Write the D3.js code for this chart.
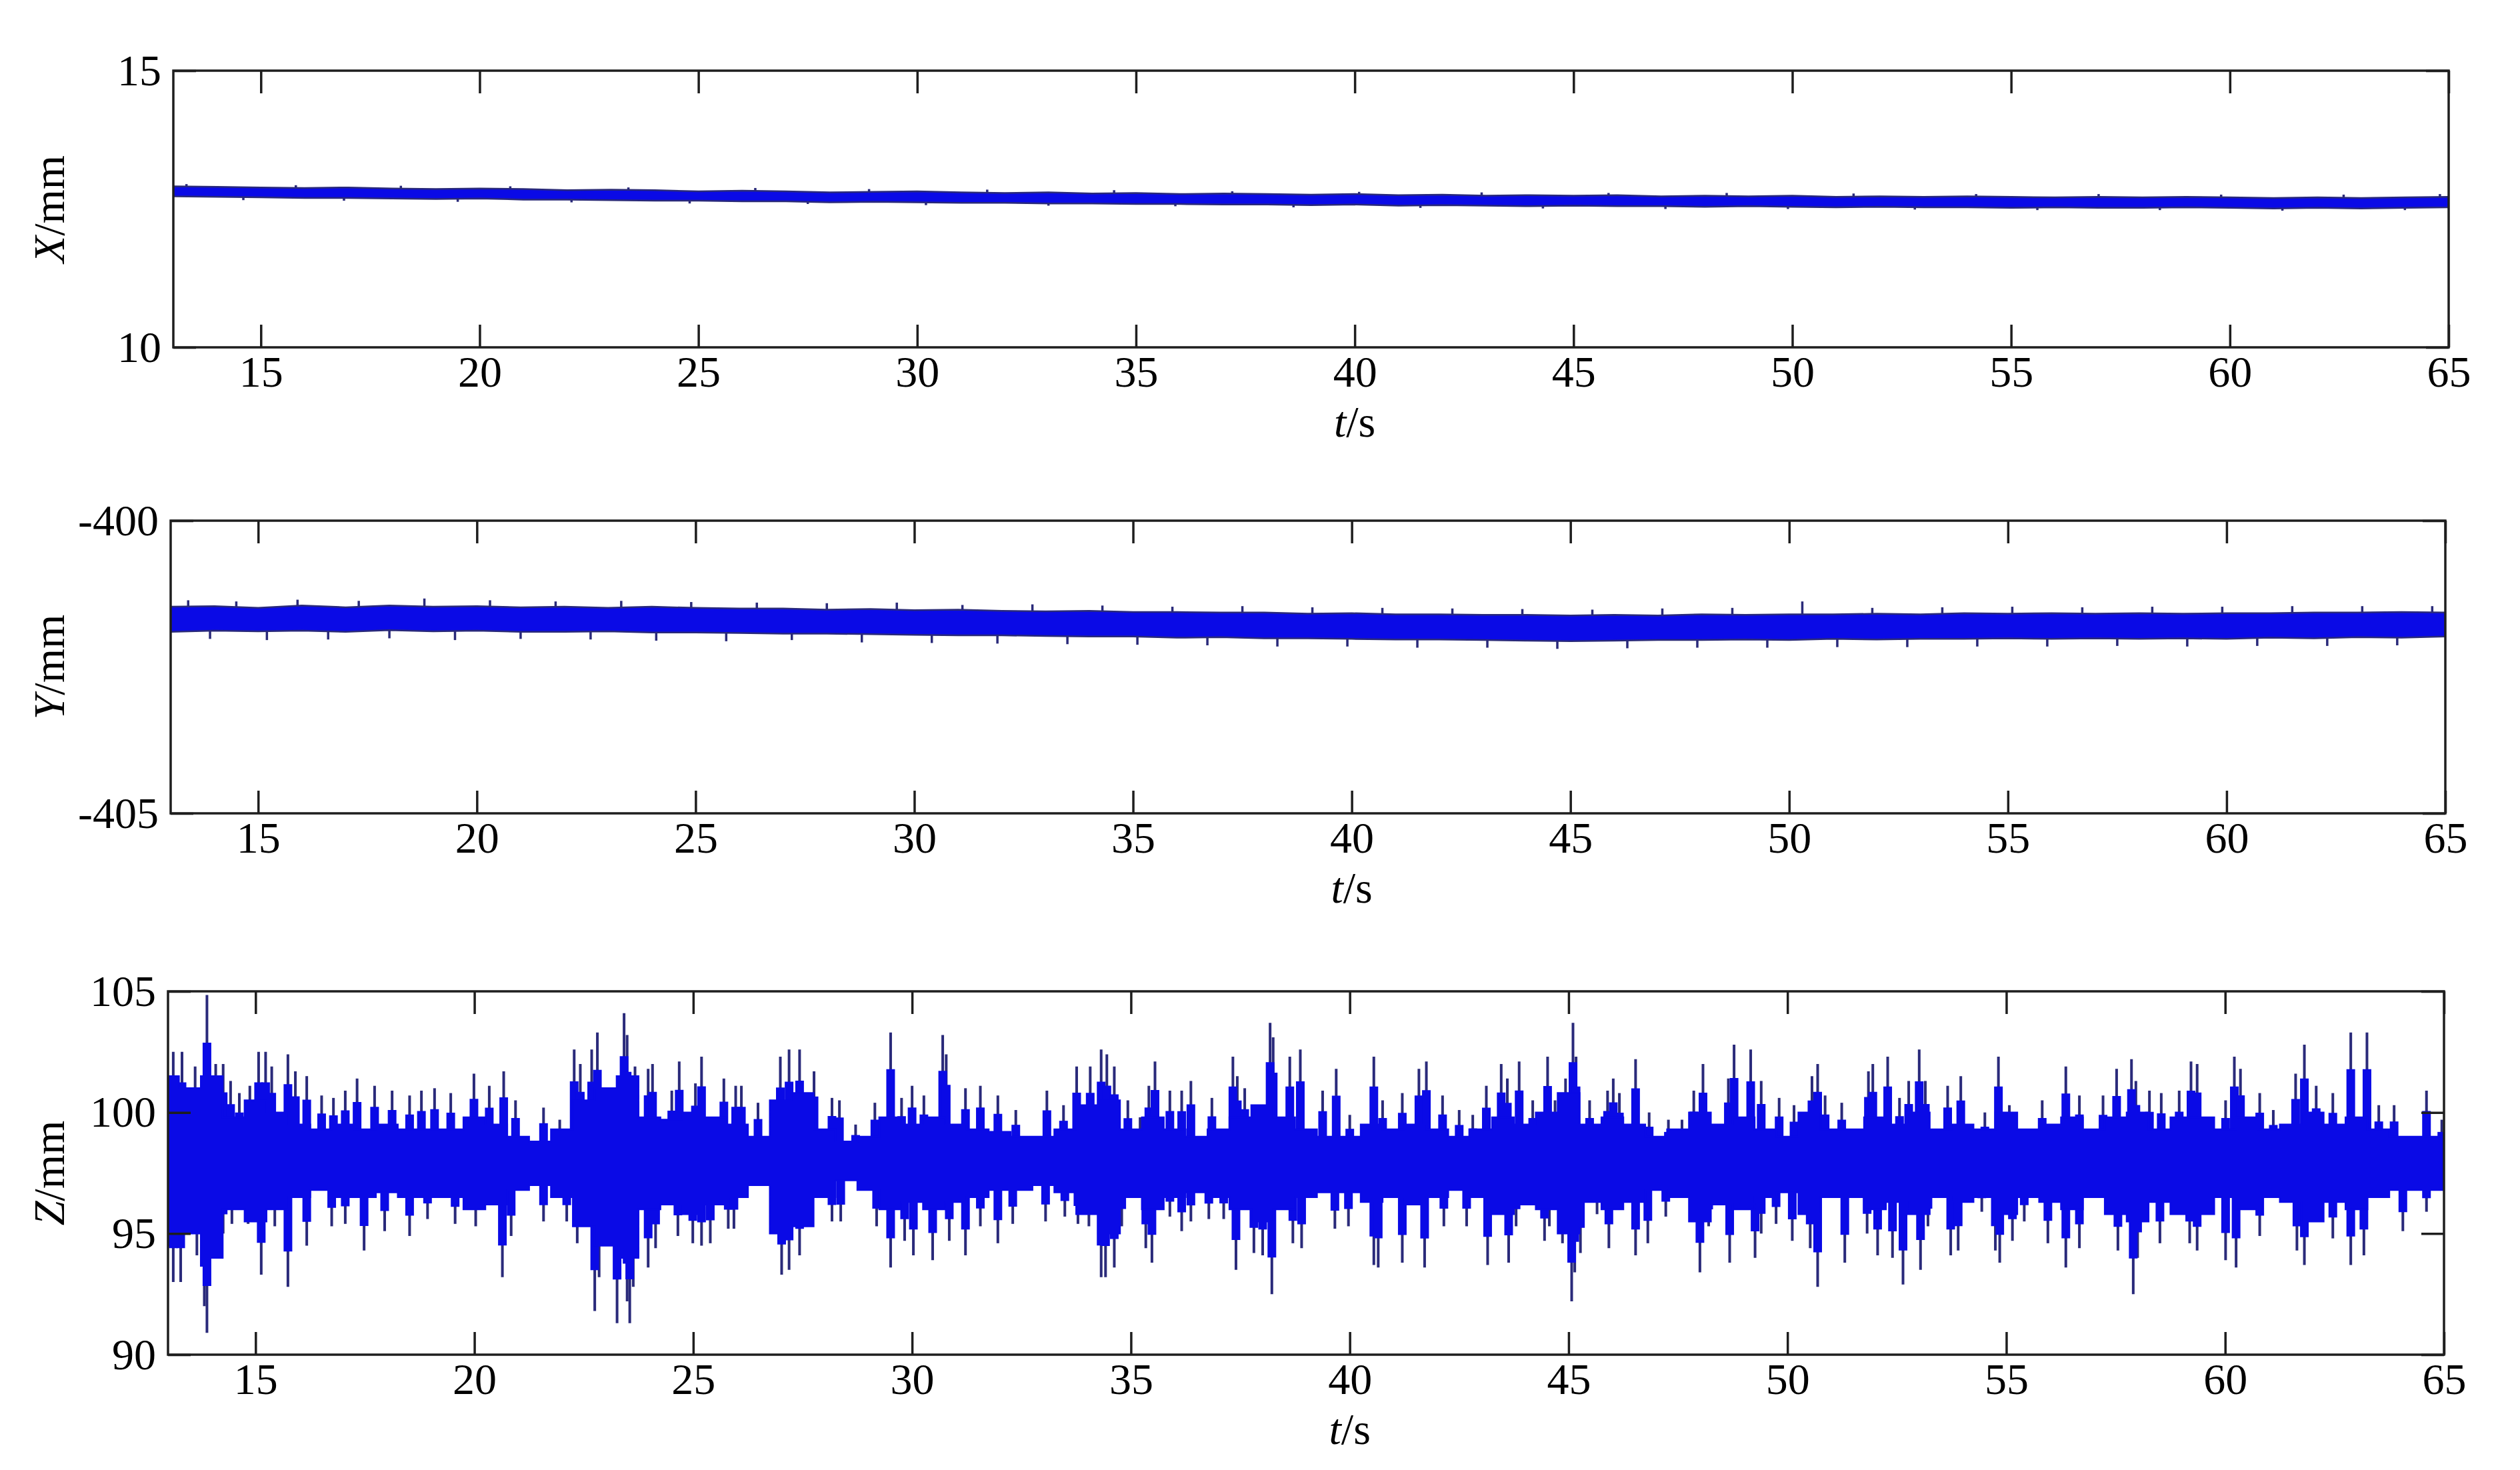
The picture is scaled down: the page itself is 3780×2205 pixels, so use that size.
<!DOCTYPE html>
<html>
<head>
<meta charset="utf-8">
<script src="https://cdn.jsdelivr.net/npm/d3@7"></script>
<style>
  body { margin: 0; background: #fff; }
  svg { display: block; }
  .tick text { font-family: "Liberation Serif", "Times New Roman", serif; font-size: 66px; fill: #000; }
  .lbl { font-family: "Liberation Serif", "Times New Roman", serif; font-size: 66px; fill: #000; }
</style>
</head>
<body>
<div id="chart"></div>
<script>
// time ticks shared by all three panels
var tTicks = [15, 20, 25, 30, 35, 40, 45, 50, 55, 60, 65]

// X/mm : band envelope, one value per second (13 s .. 65 s)
var xTimes = d3.range(13, 66)
var xHi = [12.91, 12.90, 12.89, 12.88, 12.89, 12.87, 12.86, 12.87, 12.86, 12.84,
           12.85, 12.84, 12.82, 12.83, 12.82, 12.80, 12.81, 12.82, 12.80, 12.79,
           12.80, 12.78, 12.79, 12.77, 12.78, 12.77, 12.76, 12.77, 12.75, 12.76,
           12.74, 12.75, 12.74, 12.75, 12.73, 12.74, 12.73, 12.74, 12.72, 12.73,
           12.72, 12.73, 12.72, 12.71, 12.72, 12.71, 12.72, 12.71, 12.70, 12.71,
           12.70, 12.71, 12.72]
var xLo = [12.73, 12.72, 12.71, 12.70, 12.70, 12.69, 12.68, 12.69, 12.67, 12.67,
           12.66, 12.65, 12.65, 12.64, 12.64, 12.62, 12.63, 12.62, 12.61, 12.61,
           12.60, 12.60, 12.59, 12.59, 12.58, 12.58, 12.57, 12.58, 12.56, 12.57,
           12.56, 12.55, 12.56, 12.55, 12.55, 12.54, 12.55, 12.54, 12.53, 12.54,
           12.53, 12.53, 12.52, 12.53, 12.52, 12.52, 12.53, 12.52, 12.51, 12.52,
           12.51, 12.52, 12.53]
var xSpikes = [[13.3, 12.95], [14.6, 12.66], [15.8, 12.93], [16.9, 12.65], [18.2, 12.92], [19.5, 12.63],
               [20.7, 12.91], [22.1, 12.62], [23.4, 12.89], [24.8, 12.60], [26.3, 12.88], [27.5, 12.59],
               [28.9, 12.86], [30.2, 12.57], [31.6, 12.85], [33.0, 12.56], [34.5, 12.84], [35.9, 12.55],
               [37.2, 12.82], [38.6, 12.53], [40.1, 12.81], [41.5, 12.52], [42.9, 12.80], [44.3, 12.51],
               [45.8, 12.79], [47.1, 12.50], [48.5, 12.79], [49.9, 12.50], [51.4, 12.78], [52.8, 12.49],
               [54.2, 12.77], [55.6, 12.48], [57.0, 12.77], [58.4, 12.48], [59.8, 12.76], [61.2, 12.47],
               [62.6, 12.76], [64.0, 12.48], [64.8, 12.77]]

// Y/mm : band envelope, one value per second
var yTimes = d3.range(13, 66)
var yHi = [-401.47, -401.46, -401.49, -401.45, -401.48, -401.45, -401.47, -401.46, -401.48, -401.47,
           -401.49, -401.47, -401.49, -401.50, -401.50, -401.52, -401.51, -401.53, -401.52, -401.54,
           -401.55, -401.54, -401.56, -401.56, -401.57, -401.57, -401.59, -401.58, -401.60, -401.60,
           -401.61, -401.61, -401.62, -401.61, -401.62, -401.60, -401.61, -401.60, -401.60, -401.59,
           -401.60, -401.58, -401.59, -401.58, -401.59, -401.58, -401.59, -401.58, -401.58, -401.57,
           -401.57, -401.56, -401.57]
var yLo = [-401.90, -401.88, -401.89, -401.88, -401.90, -401.87, -401.89, -401.88, -401.90, -401.90,
           -401.89, -401.91, -401.91, -401.92, -401.93, -401.93, -401.94, -401.95, -401.96, -401.96,
           -401.97, -401.98, -401.98, -402.00, -401.99, -402.01, -402.01, -402.02, -402.03, -402.03,
           -402.04, -402.05, -402.06, -402.05, -402.04, -402.04, -402.03, -402.04, -402.02, -402.03,
           -402.02, -402.02, -402.01, -402.02, -402.01, -402.02, -402.01, -402.02, -402.00, -402.01,
           -401.99, -402.00, -401.98]
var ySpikes = [[13.4, -401.36], [13.9, -402.02], [14.5, -401.38], [15.2, -402.04], [15.9, -401.35], [16.6, -402.03],
               [17.3, -401.37], [18.0, -402.01], [18.8, -401.33], [19.5, -402.04], [20.3, -401.36], [21.0, -402.02],
               [21.8, -401.38], [22.6, -402.03], [23.3, -401.37], [24.1, -402.05], [24.9, -401.39], [25.7, -402.06],
               [26.4, -401.40], [27.2, -402.04], [28.0, -401.41], [28.8, -402.08], [29.6, -401.40], [30.4, -402.09],
               [31.1, -401.44], [31.9, -402.10], [32.7, -401.43], [33.5, -402.11], [34.3, -401.45], [35.1, -402.12],
               [35.9, -401.47], [36.7, -402.13], [37.5, -401.46], [38.3, -402.15], [39.1, -401.48], [39.9, -402.15],
               [40.7, -401.49], [41.5, -402.17], [42.3, -401.50], [43.1, -402.17], [43.9, -401.51], [44.7, -402.19],
               [45.5, -401.52], [46.3, -402.18], [47.1, -401.50], [47.9, -402.17], [48.7, -401.49], [49.5, -402.17],
               [50.3, -401.38], [51.1, -402.16], [51.9, -401.49], [52.7, -402.16], [53.5, -401.48], [54.3, -402.15],
               [55.1, -401.47], [55.9, -402.15], [56.7, -401.48], [57.5, -402.14], [58.3, -401.47], [59.1, -402.15],
               [59.9, -401.47], [60.7, -402.14], [61.5, -401.46], [62.3, -402.14], [63.1, -401.46], [63.9, -402.13],
               [64.7, -401.46]]

// Z/mm : dense core envelope, one value every 0.5 s
var zTimes = d3.range(26, 131).map(function(d) { return d / 2 })
var zHi = [101.5, 101.0, 101.5, 99.8, 100.5, 100.0, 99.5, 99.3, 99.5, 99.3,
           99.5, 99.3, 99.3, 99.3, 99.8, 99.5, 99.0, 98.8, 99.3, 100.5,
           101.0, 101.5, 99.8, 99.7, 100.0, 99.8, 99.5, 99.0, 100.5, 100.8,
           99.3, 98.8, 99.0, 99.8, 99.5, 99.8, 99.5, 99.3, 99.2, 99.0,
           99.0, 99.3, 100.3, 100.5, 99.3, 99.8, 99.3, 99.0, 99.3, 99.8,
           100.3, 99.8, 99.3, 99.0, 99.0, 99.5, 99.3, 99.5, 99.3, 99.0,
           99.3, 99.8, 99.5, 100.0, 100.8, 99.5, 99.8, 99.5, 99.0, 99.3,
           100.0, 99.5, 99.8, 99.3, 99.0, 100.0, 99.3, 99.3, 99.8, 99.5,
           100.0, 99.3, 99.5, 99.3, 100.0, 99.3, 99.5, 99.8, 99.3, 99.8,
           100.0, 99.3, 99.8, 99.8, 99.3, 99.8, 99.3, 99.5, 100.0, 99.5,
           99.8, 99.3, 99.0, 99.0, 99.0]
var zLo = [94.5, 95.0, 94.0, 96.0, 95.5, 96.0, 96.5, 96.8, 96.5, 96.5,
           96.7, 96.5, 96.5, 96.5, 96.0, 96.2, 96.8, 97.0, 96.5, 95.3,
           94.5, 94.0, 96.0, 96.2, 95.8, 96.2, 96.5, 97.0, 95.0, 95.3,
           96.5, 97.2, 96.8, 96.0, 96.3, 96.0, 96.3, 96.5, 96.8, 96.8,
           97.0, 96.7, 95.8, 95.0, 96.5, 96.0, 96.5, 96.7, 96.5, 96.0,
           95.5, 96.0, 96.5, 96.7, 96.7, 96.3, 96.5, 96.2, 96.5, 96.8,
           96.5, 95.8, 96.2, 96.0, 95.0, 96.3, 96.0, 96.3, 96.8, 96.5,
           95.5, 96.2, 96.0, 96.5, 96.7, 95.8, 96.5, 96.5, 96.0, 96.3,
           95.8, 96.5, 96.3, 96.5, 95.8, 96.5, 96.3, 96.0, 96.5, 95.8,
           95.5, 96.3, 95.8, 95.8, 96.5, 96.0, 96.5, 96.3, 95.5, 96.3,
           96.0, 96.5, 96.8, 96.8, 96.8]
// Z/mm : individual spikes reaching out of the core [t, tip value]
var zPeaks = [[13.12,102.5],[13.32,102.5],[13.62,101.9],[13.89,104.85],[14.09,102.0],[14.26,102.0],[14.43,101.3],[14.63,100.8],
  [14.87,101.1],[15.07,102.5],[15.23,102.5],[15.37,101.9],[15.74,102.4],[15.91,101.7],[16.17,101.5],[16.51,100.7],[16.78,100.6],
  [17.05,100.9],[17.32,101.4],[17.72,101.1],[18.12,100.9],[18.52,100.7],[18.79,100.9],[19.09,101.0],[19.46,100.8],[19.99,101.6],
  [20.34,101.1],[20.67,101.7],[20.94,100.5],[21.58,100.2],[21.95,99.7],[22.28,102.6],[22.42,102.0],[22.68,102.6],[22.81,103.3],
  [23.15,100.7],[23.42,104.1],[23.49,103.2],[23.67,101.9],[23.97,101.8],[24.07,102.0],[24.51,100.9],[24.68,102.1],[25.05,101.2],
  [25.19,102.3],[25.70,101.4],[25.97,101.1],[26.10,101.1],[26.48,100.4],[26.99,102.3],[27.19,102.6],[27.43,102.6],[27.76,101.7],
  [28.17,100.6],[28.34,100.5],[28.71,99.5],[29.15,100.4],[29.51,103.3],[29.76,100.6],[30.0,101.1],[30.27,100.7],[30.70,103.2],
  [30.78,102.4],[31.22,101.0],[31.56,101.1],[31.96,100.7],[32.37,100.1],[33.08,100.9],[33.46,100.3],[33.76,101.9],[34.07,101.9],
  [34.32,102.6],[34.45,102.4],[34.62,101.9],[34.93,100.5],[35.21,99.8],[35.41,101.1],[35.55,102.1],[35.89,100.9],[36.16,100.9],
  [36.37,101.3],[36.85,100.6],[37.33,102.3],[37.43,101.5],[37.60,101.0],[38.18,103.7],[38.25,103.1],[38.63,102.3],[38.87,102.6],
  [39.38,100.9],[39.69,101.8],[40.0,99.9],[40.55,102.3],[40.75,100.5],[41.20,100.8],[41.58,101.8],[41.75,102.1],[42.12,100.7],
  [42.50,100.1],[42.81,99.9],[43.12,101.1],[43.46,102.0],[43.60,101.4],[43.87,102.1],[44.18,100.5],[44.52,102.3],[44.69,100.5],
  [44.93,101.4],[45.10,103.7],[45.17,102.3],[45.48,100.5],[45.89,100.9],[46.02,101.4],[46.16,100.8],[46.53,102.2],[46.84,100.0],
  [47.28,99.7],[47.59,99.7],[47.86,100.9],[48.07,102.0],[48.65,101.4],[48.78,102.8],[49.16,102.6],[49.40,101.3],[49.81,100.6],
  [50.15,100.3],[50.56,101.5],[50.69,102.0],[50.86,100.7],[51.24,100.4],[51.85,101.7],[51.95,102.0],[52.29,102.3],[52.56,100.6],
  [52.77,101.3],[53.01,102.6],[53.15,101.3],[53.66,101.1],[53.96,101.5],[54.51,100.0],[54.82,102.3],[55.07,100.3],[55.82,100.5],
  [56.36,101.9],[56.67,100.7],[57.21,100.7],[57.52,101.8],[57.86,102.2],[57.96,101.3],[58.27,100.9],[58.54,100.8],[58.95,100.9],
  [59.22,102.1],[59.36,102.0],[60.01,100.5],[60.21,102.3],[60.35,101.8],[60.79,100.8],[61.10,100.1],[61.61,101.6],[61.81,102.8],
  [62.08,101.1],[62.46,100.8],[62.87,103.3],[63.24,103.3],[63.51,100.3],[63.86,100.3],[64.60,100.9],[64.95,99.7]]
var zDips = [[13.12,93.0],[13.29,93.0],[13.66,94.1],[13.83,92.0],[13.89,90.9],[14.09,95.4],[14.26,95.0],[14.46,95.4],[14.83,95.4],
  [15.13,93.3],[15.44,95.3],[15.74,92.8],[16.17,94.5],[16.74,95.3],[17.05,95.4],[17.48,94.3],[17.95,95.1],[18.52,94.9],[18.93,95.6],
  [19.56,95.4],[20.03,95.3],[20.64,93.2],[20.84,94.9],[21.58,95.5],[22.11,95.5],[22.35,94.6],[22.75,91.8],[22.85,93.2],[23.26,91.3],
  [23.49,92.2],[23.55,91.3],[23.63,92.8],[23.97,93.6],[24.14,94.4],[24.65,94.9],[24.99,94.6],[25.19,94.5],[25.39,94.6],[25.80,95.2],
  [25.93,95.2],[27.02,93.3],[27.19,93.5],[27.43,94.1],[27.66,95.8],[28.17,95.5],[28.37,95.5],[29.19,95.3],[29.51,93.6],[29.83,94.7],
  [30.03,94.1],[30.47,93.9],[30.85,94.7],[31.22,94.1],[31.56,95.3],[31.96,94.6],[32.30,95.4],[33.05,95.5],[33.49,95.7],[33.79,95.4],
  [34.04,95.3],[34.32,93.2],[34.42,93.2],[34.62,93.6],[34.79,95.3],[35.34,94.4],[35.48,93.8],[35.89,95.7],[36.16,95.1],[36.37,95.5],
  [36.78,95.6],[37.12,95.6],[37.40,93.5],[37.81,94.2],[38.01,94.1],[38.22,92.5],[38.70,94.6],[38.90,94.4],[39.66,95.2],[39.97,95.3],
  [40.55,93.7],[40.65,93.6],[41.20,93.8],[41.71,93.6],[42.15,95.3],[42.67,95.3],[43.15,93.7],[43.63,93.8],[43.80,95.3],[44.45,94.7],
  [44.56,95.3],[44.86,94.6],[45.07,92.2],[45.14,93.4],[45.27,94.2],[45.65,95.8],[45.92,94.4],[46.53,94.1],[46.81,94.6],[47.22,95.7],
  [48.0,93.4],[48.20,95.3],[48.68,93.8],[49.26,94.0],[49.40,95.0],[49.74,95.4],[50.11,94.7],[50.52,94.4],[50.69,92.8],[51.31,93.8],
  [51.82,95.0],[52.06,94.1],[52.40,94.0],[52.64,92.9],[53.04,93.5],[53.21,95.3],[53.73,94.1],[53.90,94.3],[54.44,95.9],[54.75,94.3],
  [54.85,93.8],[55.14,94.7],[55.41,95.5],[55.95,94.6],[56.36,93.6],[56.67,94.4],[57.55,94.3],[57.90,92.5],[58.0,94.0],[58.51,94.6],
  [59.19,94.6],[59.36,94.3],[60.01,93.9],[60.25,93.6],[60.79,94.9],[61.64,94.3],[61.81,93.7],[62.46,94.8],[62.87,93.7],[63.17,94.1],
  [64.06,95.1],[64.60,95.9],[64.98,96.9]]

var width = 3780, height = 2205
var blue = "#0a0ae6", tipColor = "#2a2a7a", axisColor = "#1e1e1e"

var svg = d3.select('#chart')
    .append("svg")
    .attr("width", width)
    .attr("height", height)

// layout of the three stacked axes (pixel boxes)
var panels = [
    { name: "X", left: 260, right: 3673, top: 106, bottom: 521, domain: [10, 15], yTicks: [10, 15],
      times: xTimes, hi: xHi, lo: xLo, spikes: xSpikes, bodyW: 0, tipW: 3.5, curve: d3.curveLinear, edge: tipColor },
    { name: "Y", left: 256, right: 3668, top: 781, bottom: 1220, domain: [-405, -400], yTicks: [-405, -400],
      times: yTimes, hi: yHi, lo: yLo, spikes: ySpikes, bodyW: 0, tipW: 3.5, curve: d3.curveLinear, edge: tipColor },
    { name: "Z", left: 252, right: 3666, top: 1487, bottom: 2032, domain: [90, 105], yTicks: [90, 95, 100, 105],
      times: zTimes, hi: zHi, lo: zLo, spikes: zPeaks.concat(zDips), bodyW: 13, tipW: 4, curve: d3.curveStep, edge: blue }
]

panels.forEach(drawPanel)

function drawPanel(p) {
    var x = d3.scaleLinear().domain([13, 65]).range([p.left, p.right])
    var y = d3.scaleLinear().domain(p.domain).range([p.bottom, p.top])
    var g = svg.append("g").attr("class", "panel-" + p.name)

    svg.append("clipPath").attr("id", "clip-" + p.name)
        .append("rect")
        .attr("x", p.left).attr("y", p.top)
        .attr("width", p.right - p.left).attr("height", p.bottom - p.top)

    var plot = g.append("g").attr("clip-path", "url(#clip-" + p.name + ")")

    // middle of the band at any time, used as the foot of each spike
    var mid = function(t) {
        var i = Math.min(Math.max(d3.bisectLeft(p.times, t), 1), p.times.length - 1)
        var t0 = p.times[i - 1], t1 = p.times[i]
        var m0 = (p.hi[i - 1] + p.lo[i - 1]) / 2, m1 = (p.hi[i] + p.lo[i]) / 2
        return m0 + (m1 - m0) * (t - t0) / (t1 - t0)
    }

    // thin spike lines
    plot.append("g").selectAll("line")
        .data(p.spikes)
        .enter().append("line")
        .attr("x1", function(d) { return x(d[0]) })
        .attr("x2", function(d) { return x(d[0]) })
        .attr("y1", function(d) { return y(mid(d[0])) })
        .attr("y2", function(d) { return y(d[1]) })
        .attr("stroke", tipColor)
        .attr("stroke-width", p.tipW)

    // thicker blue base of the spikes
    if (p.bodyW > 0) {
        plot.append("g").selectAll("line")
            .data(p.spikes)
            .enter().append("line")
            .attr("x1", function(d) { return x(d[0]) })
            .attr("x2", function(d) { return x(d[0]) })
            .attr("y1", function(d) { return y(mid(d[0])) })
            .attr("y2", function(d) { var m = mid(d[0]); return y(m + (d[1] - m) * 0.72) })
            .attr("stroke", blue)
            .attr("stroke-width", p.bodyW)
    }

    // dense core of the signal
    var area = d3.area()
        .curve(p.curve)
        .x(function(d, i) { return x(p.times[i]) })
        .y0(function(d, i) { return y(p.lo[i]) })
        .y1(function(d, i) { return y(p.hi[i]) })
    plot.append("path")
        .datum(p.times)
        .attr("d", area)
        .attr("fill", blue)
        .attr("stroke", p.edge)
        .attr("stroke-width", 2.5)

    // axes, ticks pointing inward on all four sides
    var fmt = function(d) { return String(d) }
    g.append("g")
        .attr("transform", "translate(0," + p.bottom + ")")
        .call(d3.axisBottom(x).tickValues(tTicks).tickSizeInner(-34).tickSizeOuter(0).tickPadding(12).tickFormat(fmt))
    g.append("g")
        .attr("transform", "translate(0," + p.top + ")")
        .call(d3.axisTop(x).tickValues(tTicks).tickSizeInner(-34).tickSizeOuter(0).tickFormat(""))
    g.append("g")
        .attr("transform", "translate(" + p.left + ",0)")
        .call(d3.axisLeft(y).tickValues(p.yTicks).tickSizeInner(-34).tickSizeOuter(0).tickPadding(18).tickFormat(fmt))
    g.append("g")
        .attr("transform", "translate(" + p.right + ",0)")
        .call(d3.axisRight(y).tickValues(p.yTicks).tickSizeInner(-34).tickSizeOuter(0).tickFormat(""))
    g.selectAll(".domain").remove()
    g.selectAll(".tick line").attr("stroke", axisColor).attr("stroke-width", 3.5)

    g.append("rect")
        .attr("x", p.left).attr("y", p.top)
        .attr("width", p.right - p.left).attr("height", p.bottom - p.top)
        .attr("fill", "none")
        .attr("stroke", axisColor)
        .attr("stroke-width", 3.5)

    // axis titles
    var xl = g.append("text").attr("class", "lbl")
        .attr("x", x(40)).attr("y", p.bottom + 134)
        .attr("text-anchor", "middle")
    xl.append("tspan").attr("font-style", "italic").text("t")
    xl.append("tspan").text("/s")

    var yl = g.append("text").attr("class", "lbl")
        .attr("transform", "translate(96," + (p.top + p.bottom) / 2 + ") rotate(-90)")
        .attr("text-anchor", "middle")
    yl.append("tspan").attr("font-style", "italic").text(p.name)
    yl.append("tspan").text("/mm")
}
</script>
</body>
</html>
